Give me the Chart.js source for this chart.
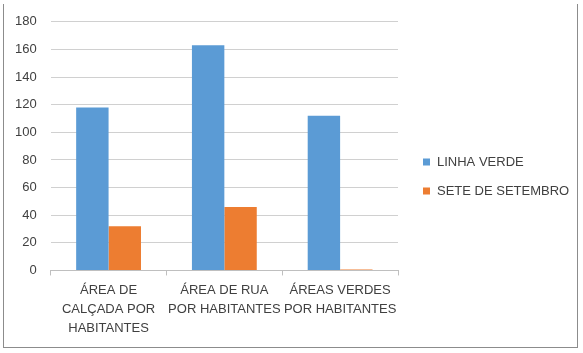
<!DOCTYPE html>
<html>
<head>
<meta charset="utf-8">
<script src="https://cdn.jsdelivr.net/npm/chart.js@4/dist/chart.umd.min.js"></script>
<style>
  html, body { margin: 0; padding: 0; background: #fff; }
  #wrap { position: relative; width: 583px; height: 353px; }
  #frame {
    position: absolute; left: 3px; top: 4px; width: 575px; height: 344px;
    border: 1px solid #8c8c8c; border-top: 0; box-sizing: border-box;
  }
  canvas { position: absolute; left: 0; top: 0; }
</style>
</head>
<body>
<div id="wrap">
  <div id="frame"></div>
  <canvas id="chart" width="583" height="353"></canvas>
</div>
<script>
// categories (multi-line labels as in the original)
const categories = [
  ['ÁREA DE', 'CALÇADA POR', 'HABITANTES'],
  ['ÁREA DE RUA', 'POR HABITANTES'],
  ['ÁREAS VERDES', 'POR HABITANTES'],
];
const linhaVerde = [118, 163, 112];
const seteSetembro = [32, 46, 0.6];
const seriesNames = ['LINHA VERDE', 'SETE DE SETEMBRO'];

const FONT = '"Liberation Sans", Arial, sans-serif';
const TEXT = '#404040';

// right-side legend, vertically centred on the whole chart (Excel style)
const sideLegend = {
  id: 'sideLegend',
  afterDraw(chart) {
    const { ctx, chartArea } = chart;
    const x = chartArea.right + 25;
    const midY = chart.height / 2;
    const step = 29;
    const n = chart.data.datasets.length;
    ctx.save();
    ctx.font = '13px ' + FONT;
    ctx.textBaseline = 'middle';
    chart.data.datasets.forEach((ds, i) => {
      const y = Math.round(midY + (i - (n - 1) / 2) * step);
      ctx.fillStyle = ds.backgroundColor;
      ctx.fillRect(x, y - 3.5, 7, 7);
      ctx.fillStyle = TEXT;
      ctx.fillText(ds.label, x + 14, y);
    });
    ctx.restore();
  },
};

const chart = new Chart(document.getElementById('chart'), {
  type: 'bar',
  data: {
    labels: categories,
    datasets: [
      { label: seriesNames[0], data: linhaVerde, backgroundColor: '#5b9bd5' },
      { label: seriesNames[1], data: seteSetembro, backgroundColor: '#ed7d31' },
    ],
  },
  plugins: [sideLegend],
  options: {
    responsive: false,
    animation: false,
    layout: { padding: { top: 17, left: 1, right: 185, bottom: 9 } },
    datasets: { bar: { categoryPercentage: 0.56, barPercentage: 1 } },
    plugins: {
      tooltip: { enabled: false },
      legend: { display: false },
    },
    scales: {
      x: {
        grid: {
          offset: true,
          drawOnChartArea: false,
          tickLength: 5,
          color: '#bfbfbf',
        },
        border: { color: '#bfbfbf' },
        ticks: {
          color: TEXT,
          padding: 6,
          maxRotation: 0,
          font: { family: FONT, size: 13, lineHeight: 1.45 },
        },
      },
      y: {
        min: 0,
        max: 180,
        ticks: {
          stepSize: 20,
          color: TEXT,
          padding: 14,
          font: { family: FONT, size: 13 },
        },
        grid: { color: '#d0d0d0', drawTicks: false },
        border: { display: false },
      },
    },
  },
});
</script>
</body>
</html>
